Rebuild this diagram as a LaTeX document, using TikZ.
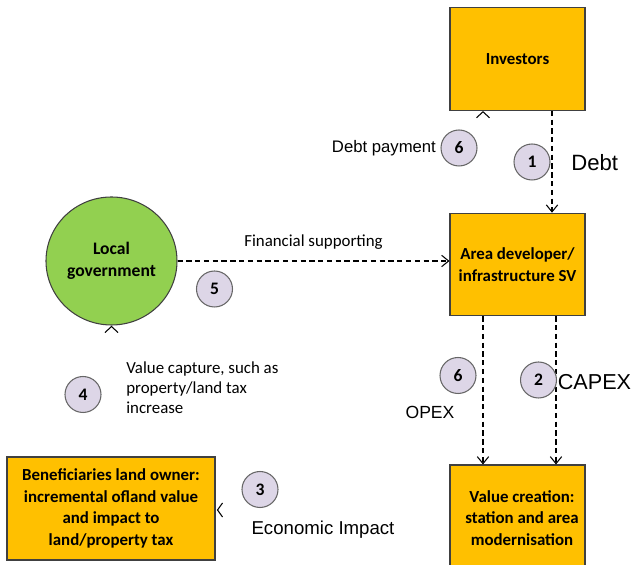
\documentclass[tikz,border=0pt]{standalone}
\usepackage{fontspec}
\setmainfont{Carlito}
\newfontfamily\arialfont{Liberation Sans}
\usepackage{tikz}
\usetikzlibrary{arrows.meta, positioning, shapes.geometric}
\usepackage{xcolor}
\definecolor{boxgold}{HTML}{FFC000}
\definecolor{govgreen}{HTML}{92D050}
\definecolor{steplilac}{HTML}{DDD6E7}
\definecolor{edgegray}{HTML}{404040}

\begin{document}
\begin{tikzpicture}[
				actor/.style={draw=edgegray, line width=0.6pt, fill=boxgold, minimum width=2.7cm, minimum height=2.05cm, align=center, font=\fontsize{9.6}{12.2}\selectfont\bfseries},
				stepnum/.style={circle, draw=edgegray!80, line width=0.6pt, fill=steplilac, minimum size=0.72cm, inner sep=0pt, font=\fontsize{10}{12}\selectfont\bfseries},
				flow/.style={draw=black, line width=0.6pt, dash pattern=on 3pt off 2pt, -{Straight Barb[length=4pt, width=6.5pt]}},
				tipmark/.style={draw=black, line width=0.6pt},
				note/.style={font=\fontsize{9.6}{11.3}\selectfont, align=left},
				bignote/.style={font=\arialfont\fontsize{12.6}{15}\selectfont}
			]
			\clip (0,0) rectangle (12.64,-11.3);
			\useasboundingbox (0,0) rectangle (12.64,-11.3);

			% Actors
			\node[actor] (inv) at (10.35, -1.18) {Investors};
			\node[actor] (dev) at (10.35, -5.29) {Area developer/\\infrastructure SV};
			\node[actor, minimum height=2.12cm] (val) at (10.35, -10.36) {\hspace*{0.18cm}Value creation:\\\hspace*{0.18cm}station and area\\\hspace*{0.18cm}modernisation};
			\node[actor, minimum width=4.16cm, minimum height=2.06cm] (ben) at (2.22, -10.17) {Beneficiaries land owner:\\incremental ofland value\\and impact to\\land/property tax};
			\node[ellipse, draw=edgegray, line width=0.6pt, fill=govgreen, minimum width=2.62cm, minimum height=2.56cm, inner sep=0pt, align=center, font=\fontsize{10}{12.5}\selectfont\bfseries] (gov) at (2.23, -5.22) {Local\\government};

			% Dashed flows
			\draw[flow] ([xshift=0.69cm]inv.south) -- ([xshift=0.69cm]dev.north);
			\draw[flow] (gov.east) -- (gov.east -| dev.west) node[midway, above=0.1cm, note] {Financial supporting};
			\draw[flow] ([xshift=-0.69cm]dev.south) -- ([xshift=-0.69cm]val.north);
			\draw[flow] ([xshift=0.77cm]dev.south) -- ([xshift=0.77cm]val.north);

			% Loose tips
			\coordinate (invtip) at ([xshift=-0.69cm, yshift=-0.02cm]inv.south);
			\coordinate (govtip) at ([yshift=-0.02cm]gov.south);
			\coordinate (bentip) at ([xshift=0.04cm, yshift=-0.03cm]ben.east);
			\draw[tipmark] ([shift={(-0.13,-0.12)}]invtip) -- (invtip) -- ([shift={(0.13,-0.12)}]invtip);
			\draw[tipmark] ([shift={(-0.13,-0.12)}]govtip) -- (govtip) -- ([shift={(0.13,-0.12)}]govtip);
			\draw[tipmark] ([shift={(0.1,0.14)}]bentip) -- (bentip) -- ([shift={(0.1,-0.14)}]bentip);

			% Step numbers
			\node[stepnum] (s6a) at (9.18, -2.96) {6};
			\node[stepnum] (s1) at (10.64, -3.24) {1};
			\node[stepnum] (s5) at (4.29, -5.78) {5};
			\node[stepnum] (s4) at (1.66, -7.89) {4};
			\node[stepnum] (s6b) at (9.16, -7.51) {6};
			\node[stepnum] (s2) at (10.77, -7.6) {2};
			\node[stepnum] (s3) at (5.2, -9.79) {3};

			% Labels
			\node[anchor=east, font=\arialfont\fontsize{9.5}{11}\selectfont, inner sep=1pt] (lpay) at (8.76, -2.96) {Debt payment};
			\node[anchor=west, bignote, inner sep=0pt] (ldebt) at (11.42, -3.26) {Debt};
			\node[anchor=west, note, inner sep=0pt] (lcap) at (2.52, -7.76) {Value capture, such as\\property/land tax\\increase};
			\node[font=\arialfont\fontsize{10}{12}\selectfont] (lopex) at (8.6, -8.24) {OPEX};
			\node[anchor=west, font=\arialfont\fontsize{12.3}{15}\selectfont, inner sep=0pt] (lcapex) at (11.15, -7.64) {CAPEX};
			\node[font=\arialfont\fontsize{10.6}{12}\selectfont] (lecon) at (6.46, -10.6) {Economic Impact};
		\end{tikzpicture}
\end{document}
